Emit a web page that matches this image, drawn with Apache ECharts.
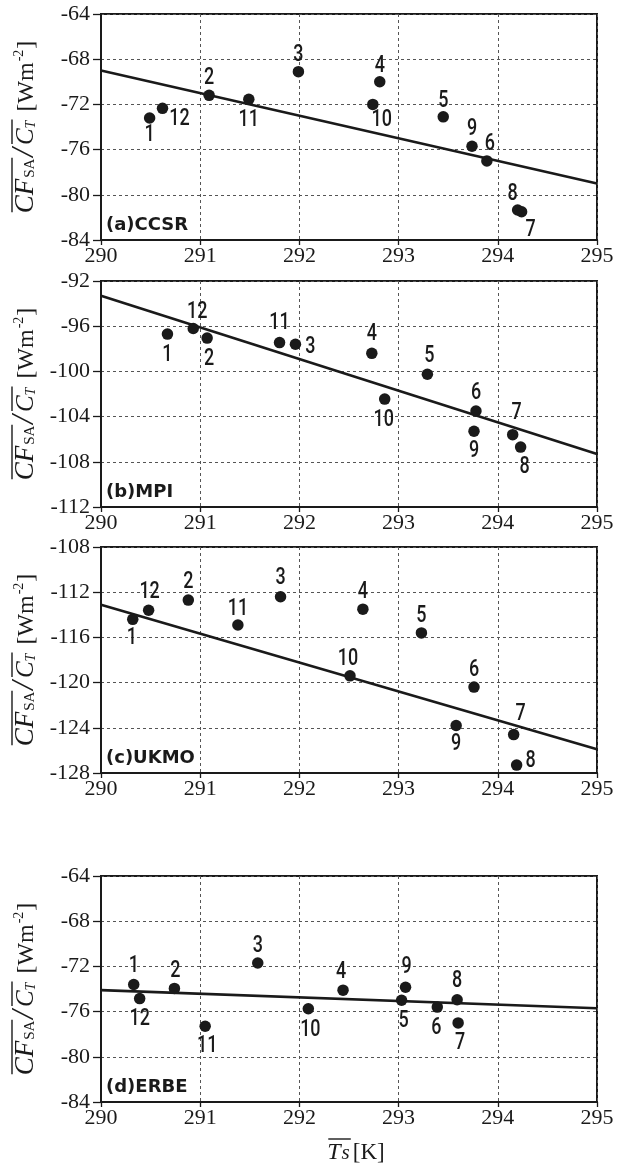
<!DOCTYPE html>
<html><head><meta charset="utf-8">
<script src="https://cdn.jsdelivr.net/npm/echarts@6/dist/echarts.min.js"></script>
<style>html,body{margin:0;padding:0;background:#fff}#c{width:617px;height:1167px}</style>
</head><body><div id="c"></div>
<script>
// ---------- data ----------
const MONTHS = ['1','2','3','4','5','6','7','8','9','10','11','12'];
const X_TICKS = [290, 291, 292, 293, 294, 295];
const FIT_X = [290, 295];
const PANEL_NAMES = ['(a)CCSR', '(b)MPI', '(c)UKMO', '(d)ERBE'];
const Y_MIN = [-84, -112, -128, -84];
const Y_MAX = [-64, -92, -108, -64];
const Y_STEP = 4;

// (a) CCSR, months 1..12
const TS_A = [290.49, 291.09, 291.99, 292.81, 293.45, 293.89, 294.24, 294.20, 293.74, 292.74, 291.49, 290.62];
const CF_A = [-73.2, -71.2, -69.1, -70.0, -73.1, -77.0, -81.5, -81.35, -75.7, -72.0, -71.55, -72.35];
const FIT_A = [-69.0, -79.0];
// (b) MPI
const TS_B = [290.67, 291.07, 291.96, 292.73, 293.29, 293.78, 294.15, 294.23, 293.76, 292.86, 291.80, 290.93];
const CF_B = [-96.7, -97.05, -97.6, -98.4, -100.25, -103.5, -105.6, -106.7, -105.3, -102.45, -97.45, -96.2];
const FIT_B = [-93.3, -107.3];
// (c) UKMO
const TS_C = [290.32, 290.88, 291.81, 292.64, 293.23, 293.76, 294.16, 294.19, 293.58, 292.51, 291.38, 290.48];
const CF_C = [-114.4, -112.7, -112.4, -113.5, -115.6, -120.4, -124.6, -127.3, -123.8, -119.4, -114.9, -113.6];
const FIT_C = [-113.1, -125.9];
// (d) ERBE
const TS_D = [290.33, 290.74, 291.58, 292.44, 293.03, 293.39, 293.60, 293.59, 293.07, 292.09, 291.05, 290.39];
const CF_D = [-73.6, -73.95, -71.7, -74.1, -75.0, -75.6, -77.0, -74.95, -73.85, -75.75, -77.3, -74.85];
const FIT_D = [-74.1, -75.7];

const TS = [TS_A, TS_B, TS_C, TS_D];
const CF = [CF_A, CF_B, CF_C, CF_D];
const FIT = [FIT_A, FIT_B, FIT_C, FIT_D];

// ---------- layout / style ----------
const LABEL_OFFSETS = [
  [[0,17],[0,-17],[0,-16],[0,-16],[0,-16],[3,-17],[9,18],[-5,-16],[0,-17],[9,16],[0,21],[17,11]],
  [[0,21],[2,21],[15,3],[0,-19],[2,-18],[0,-18],[4,-21],[4,20],[0,20],[-1,21],[0,-19],[4,-16]],
  [[-1,19],[0,-18],[0,-18],[0,-17],[0,-17],[0,-17],[7,-20],[14,-4],[0,19],[-2,-17],[0,-16],[1,-18]],
  [[0,-18],[1,-17],[0,-17],[-2,-18],[2,21],[-1,21],[2,20],[0,-18],[1,-20],[2,21],[2,20],[0,21]]
];
const GRID_LEFT = 101, GRID_W = 496, GRID_H = 226;
const GRID_TOPS = [14, 281, 547, 876];
const INK = '#1a1a1a';
const SERIF = '"Liberation Serif", "Times New Roman", serif';
const LABEL_FONT = '500 23px Roboto, "Liberation Sans", sans-serif';

const mctx = document.createElement('canvas').getContext('2d');
function tw(t, font) { mctx.font = font; return mctx.measureText(t).width; }
function fsize(font) { return parseFloat(font.match(/(\d+(\.\d+)?)px/)[1]); }

function buildRun(pieces, olY) {
  let x = 0; const children = []; const ol = {};
  pieces.forEach(p => {
    x += (p.pre || 0);
    const w = tw(p.t, p.font);
    const s = fsize(p.font);
    children.push({ type: 'text', x: x, y: (p.dy || 0) - 0.34 * s,
      style: { text: p.t, font: p.font, fill: INK, textAlign: 'left', textVerticalAlign: 'middle' } });
    if (p.ol) {
      if (!ol[p.ol]) ol[p.ol] = [x, x + w];
      else ol[p.ol][1] = x + w;
    }
    x += w + (p.post || 0);
  });
  Object.keys(ol).forEach(k => {
    children.push({ type: 'line', shape: { x1: ol[k][0] + 1, y1: olY, x2: ol[k][1] + 1, y2: olY },
      style: { stroke: INK, lineWidth: 1.4 } });
  });
  return { children, width: x };
}

const Y_TITLE = [
  { t: 'CF', font: 'italic 27px ' + SERIF, ol: 1 },
  { t: 'SA', font: '15px ' + SERIF, ol: 1, pre: 1 },
  { t: '/', font: 'italic 31px ' + SERIF, pre: 2, post: 3 },
  { t: 'C', font: 'italic 25px ' + SERIF, ol: 2 },
  { t: 'T', font: 'italic 14px ' + SERIF, ol: 2, dy: 1 },
  { t: '[Wm', font: '24px ' + SERIF, pre: 9 },
  { t: '-2', font: '14px ' + SERIF, dy: -11, pre: 1 },
  { t: ']', font: '24px ' + SERIF, pre: 1 }
];
const X_TITLE = [
  { t: 'T', font: 'italic 24px ' + SERIF, ol: 1 },
  { t: 's', font: 'italic 21px ' + SERIF, ol: 1, pre: 1 },
  { t: '[K]', font: '23px ' + SERIF, pre: 3 }
];

const grids = [], xAxes = [], yAxes = [], series = [], graphics = [];
for (let p = 0; p < 4; p++) {
  const top = GRID_TOPS[p];
  grids.push({ left: GRID_LEFT, top: top, width: GRID_W, height: GRID_H,
    show: true, borderColor: INK, borderWidth: 2, backgroundColor: 'transparent' });
  xAxes.push({ gridIndex: p, type: 'value', min: X_TICKS[0], max: X_TICKS[X_TICKS.length - 1], interval: 1,
    axisLine: { show: true, onZero: false, lineStyle: { color: INK, width: 2 } },
    axisTick: { show: true, length: 5, lineStyle: { color: INK, width: 1.3 } },
    axisLabel: { show: true, margin: 5, fontFamily: SERIF, fontSize: 22, color: INK },
    splitLine: { show: true, lineStyle: { color: '#555', width: 1, type: [3, 3] } } });
  yAxes.push({ gridIndex: p, type: 'value', min: Y_MIN[p], max: Y_MAX[p], interval: Y_STEP,
    axisLine: { show: true, onZero: false, lineStyle: { color: INK, width: 2 } },
    axisTick: { show: true, length: 8, lineStyle: { color: INK, width: 1.3 } },
    axisLabel: { show: true, margin: 11, fontFamily: SERIF, fontSize: 22, color: INK },
    splitLine: { show: true, lineStyle: { color: '#555', width: 1, type: [3, 3] } } });
  series.push({ type: 'line', xAxisIndex: p, yAxisIndex: p, symbol: 'none', silent: true,
    data: FIT_X.map((x, i) => [x, FIT[p][i]]),
    lineStyle: { color: INK, width: 2.6 }, z: 3 });
  series.push({ type: 'scatter', xAxisIndex: p, yAxisIndex: p, symbol: 'circle', symbolSize: 11.5,
    itemStyle: { color: INK, opacity: 1 }, z: 4,
    data: TS[p].map((x, i) => [x, CF[p][i]]) });
  const offs = LABEL_OFFSETS[p];
  series.push({ type: 'custom', xAxisIndex: p, yAxisIndex: p, z: 5, silent: true,
    encode: { x: 0, y: 1 },
    data: TS[p].map((x, i) => [x, CF[p][i], i]),
    renderItem: function (params, api) {
      const pt = api.coord([api.value(0), api.value(1)]);
      const i = api.value(2);
      return { type: 'text', x: pt[0] + offs[i][0], y: pt[1] + offs[i][1], scaleX: 0.78,
        style: { text: MONTHS[i], font: LABEL_FONT, fill: INK, textAlign: 'center', textVerticalAlign: 'middle' } };
    } });
  graphics.push({ type: 'text', left: GRID_LEFT + 5, top: top + GRID_H - 24, z: 10,
    style: { text: PANEL_NAMES[p], font: 'bold 18px "DejaVu Sans", sans-serif', fill: INK } });
  const run = buildRun(Y_TITLE, -23);
  const cy = top + GRID_H / 2;
  graphics.push({ type: 'group', x: 35, y: cy + run.width / 2, rotation: Math.PI / 2, children: run.children });
}
const xr = buildRun(X_TITLE, -22);
graphics.push({ type: 'group', x: 356 - xr.width / 2, y: 1161, children: xr.children });

const chart = echarts.init(document.getElementById('c'), null, { renderer: 'canvas' });
chart.setOption({
  animation: false,
  backgroundColor: '#fff',
  grid: grids, xAxis: xAxes, yAxis: yAxes, series: series,
  graphic: graphics
});
</script></body></html>
